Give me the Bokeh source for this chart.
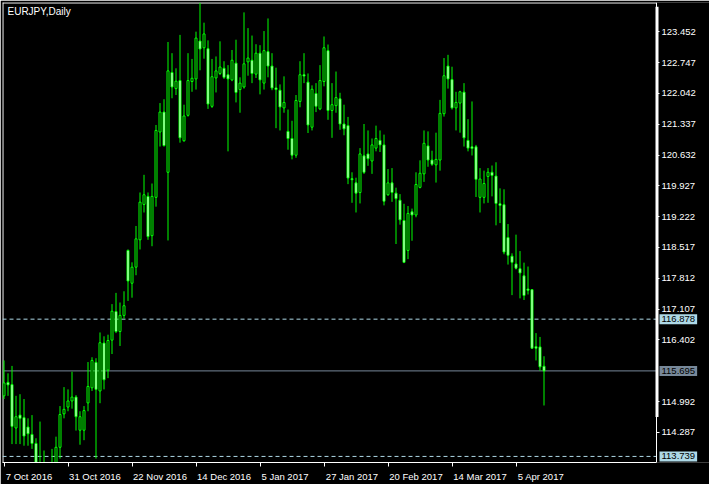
import pandas as pd
from bokeh.plotting import figure
from bokeh.models import (ColumnDataSource, FixedTicker, PrintfTickFormatter, Label,
                          Range1d, LinearAxis)
from bokeh.embed import file_html
from bokeh.resources import INLINE

# ---------------- data ----------------
chart_title = "EURJPY,Daily"
dates = pd.bdate_range("2016-10-07", periods=136)

opens = [115.125, 115.433, 115.382, 114.389, 114.684, 114.625, 114.411, 114.242, 114.036, 113.360,
         113.250, 113.450, 113.300, 113.500, 113.948, 114.713, 114.868, 115.007, 115.096, 114.338,
         114.338, 114.963, 115.309, 115.890, 115.236, 116.331, 115.713, 116.398, 117.052, 116.596,
         116.964, 118.450, 117.700, 118.067, 118.693, 119.502, 119.686, 118.788, 119.664, 121.158,
         121.614, 120.237, 122.519, 122.151, 122.335, 120.958, 121.540, 122.313, 122.372, 123.239,
         123.085, 123.063, 121.746, 122.394, 122.497, 122.615, 122.468, 122.350, 122.733, 122.129,
         122.188, 122.762, 122.799, 122.482, 122.961, 122.276, 122.997, 122.666, 122.166, 122.114,
         121.710, 121.172, 121.010, 120.628, 121.857, 122.468, 122.298, 121.268, 122.040, 121.687,
         122.313, 123.019, 121.651, 121.761, 121.916, 121.341, 121.304, 120.090, 119.995, 119.775,
         120.613, 120.657, 120.495, 120.790, 120.966, 120.863, 119.723, 119.995, 119.760, 119.598,
         119.134, 118.450, 119.333, 119.260, 119.892, 120.201, 120.841, 120.517, 120.407, 120.517,
         121.577, 122.666, 122.357, 121.710, 121.820, 122.070, 120.966, 120.819, 120.819, 119.664,
         119.664, 120.142, 120.237, 120.150, 119.517, 119.495, 118.744, 118.318, 118.141, 118.031,
         117.869, 117.567, 117.553, 116.250, 116.243, 115.801]

highs = [115.934, 115.639, 115.809, 115.125, 115.162, 115.052, 114.610, 114.684, 114.154, 114.536,
         113.874, 113.550, 113.911, 114.191, 114.890, 115.324, 115.272, 115.676, 115.140, 114.772,
         114.890, 115.897, 116.007, 115.985, 116.574, 116.486, 116.523, 117.222, 117.479, 117.259,
         117.516, 118.472, 118.178, 119.009, 119.775, 120.179, 119.775, 119.980, 121.319, 121.820,
         121.908, 123.217, 122.961, 122.615, 123.379, 121.783, 122.961, 122.829, 123.453, 124.115,
         123.659, 123.254, 122.829, 122.886, 123.232, 122.777, 122.688, 123.034, 123.269, 122.409,
         123.894, 123.534, 123.364, 123.166, 123.144, 123.467, 123.755, 122.961, 122.629, 122.247,
         122.431, 121.672, 121.415, 122.004, 122.777, 122.961, 122.497, 122.225, 122.276, 122.688,
         123.343, 123.159, 122.276, 122.541, 122.055, 121.783, 121.503, 120.237, 120.113, 120.790,
         121.341, 121.194, 121.010, 121.304, 121.194, 121.099, 120.311, 120.333, 119.885, 119.738,
         119.517, 119.465, 119.407, 120.237, 120.510, 121.194, 121.172, 120.731, 121.143, 121.893,
         122.850, 122.923, 122.651, 122.078, 122.100, 122.276, 121.452, 121.857, 120.863, 120.333,
         120.275, 120.333, 120.392, 120.466, 119.870, 119.848, 119.053, 118.384, 118.811, 118.435,
         118.171, 118.082, 117.567, 116.559, 116.471, 116.030]

lows = [115.052, 115.125, 114.021, 114.021, 114.021, 113.984, 113.984, 113.911, 113.212, 113.100,
        113.050, 113.150, 113.200, 113.400, 113.690, 114.610, 114.772, 114.831, 114.330, 114.006,
        114.110, 114.772, 115.236, 113.690, 114.956, 115.272, 115.529, 116.081, 116.559, 116.265,
        116.891, 117.295, 117.369, 117.883, 118.472, 119.318, 118.693, 118.546, 119.451, 120.826,
        120.826, 118.678, 121.930, 122.004, 120.914, 120.936, 121.511, 122.078, 122.129, 122.570,
        122.835, 121.687, 121.710, 122.063, 122.460, 122.372, 120.716, 122.320, 121.835, 121.599,
        122.151, 122.446, 122.276, 122.394, 122.019, 122.129, 122.409, 122.114, 121.246, 121.194,
        121.599, 120.753, 120.532, 120.569, 121.724, 122.276, 121.135, 121.194, 121.614, 121.658,
        122.203, 121.437, 121.025, 121.599, 121.209, 121.084, 119.966, 119.539, 119.318, 119.525,
        120.200, 120.385, 120.201, 120.716, 120.701, 119.480, 119.700, 119.561, 118.597, 119.039,
        118.160, 118.251, 118.671, 119.208, 119.870, 120.017, 120.363, 120.385, 120.002, 120.274,
        121.511, 122.151, 121.672, 121.194, 121.143, 120.826, 120.716, 120.621, 119.672, 119.318,
        119.525, 119.539, 119.686, 119.024, 119.076, 118.362, 118.127, 117.428, 118.016, 117.354,
        117.317, 117.442, 116.200, 115.934, 115.699, 114.904]

closes = [115.419, 115.375, 114.426, 114.647, 114.610, 114.205, 114.257, 114.036, 113.359, 113.250,
          113.450, 113.300, 113.500, 113.948, 114.698, 114.816, 115.007, 115.096, 114.647, 114.647,
          114.787, 115.339, 115.934, 115.272, 116.339, 115.492, 116.390, 117.060, 116.596, 116.964,
          117.185, 117.751, 118.067, 118.715, 119.554, 119.723, 118.766, 119.686, 121.194, 121.614,
          120.848, 122.556, 122.188, 122.320, 121.025, 121.525, 122.335, 122.387, 123.306, 123.056,
          123.401, 121.798, 122.423, 122.556, 122.644, 122.409, 122.372, 122.799, 122.063, 122.276,
          122.718, 122.850, 122.497, 122.961, 122.350, 123.019, 122.666, 122.166, 122.129, 121.731,
          121.835, 121.010, 120.628, 121.879, 122.468, 122.438, 121.319, 122.136, 121.746, 122.335,
          123.085, 121.651, 121.783, 121.945, 121.341, 121.231, 120.105, 120.068, 119.760, 120.657,
          120.237, 120.547, 120.863, 121.010, 120.863, 119.576, 119.995, 119.775, 119.635, 119.149,
          118.178, 119.296, 119.260, 119.958, 120.215, 120.900, 120.517, 120.422, 120.532, 121.584,
          122.445, 122.372, 121.710, 121.835, 122.078, 121.025, 120.790, 120.782, 120.076, 120.083,
          119.980, 120.237, 120.164, 119.525, 119.480, 118.413, 118.340, 118.178, 118.045, 117.935,
          117.420, 117.538, 116.214, 116.214, 115.787, 115.695]

price_ticks = [123.452, 122.747, 122.042, 121.337, 120.632, 119.927, 119.222,
               118.517, 117.812, 117.107, 116.402, 114.992, 114.287]
date_tick_idx = [0, 16, 32, 48, 64, 80, 96, 112, 128]
date_tick_labels = ["7 Oct 2016", "31 Oct 2016", "22 Nov 2016", "14 Dec 2016", "5 Jan 2017",
                    "27 Jan 2017", "20 Feb 2017", "14 Mar 2017", "5 Apr 2017"]
dashed_levels = [116.878, 113.739]
bid_level = 115.695
scroll_bar_range = (114.64, 124.02)
visible_price_range = (113.60, 124.12)

# ---------------- style / layout ----------------
FONT = "Liberation Sans"
FS = 9.5
LIME = "#00FF00"
LIGHTBLUE = "#ADD8E6"
SLATE = "#778899"
W, H = 709, 484
ML, MT, MB = 2, 2, 20
SCALE_W = 53                       # width of the price-scale strip
BAR_PX = 4.0
frame_w = W - ML
frame_h = H - MT - MB
x0 = -0.375
x1 = x0 + frame_w / BAR_PX
x_edge = x0 + (frame_w - SCALE_W) / BAR_PX     # right edge of the candle area
y0, y1 = visible_price_range
py = (y1 - y0) / frame_h                        # price per pixel
px = 1.0 / BAR_PX                               # bars per pixel

idx = list(range(len(opens)))
src = ColumnDataSource(dict(
    x=idx, date=[d.strftime("%Y-%m-%d") for d in dates],
    o=opens, h=highs, l=lows, c=closes,
    top=[max(a, b) for a, b in zip(opens, closes)],
    bottom=[min(a, b) for a, b in zip(opens, closes)],
    fill=["white" if c < o else "black" for o, c in zip(opens, closes)],
))

p = figure(width=W, height=H, output_backend="svg", toolbar_location=None,
           x_range=Range1d(x0, x1), y_range=Range1d(y0, y1),
           y_axis_location=None, min_border_left=ML, min_border_top=MT,
           min_border_right=0, min_border_bottom=MB)
p.background_fill_color = "black"
p.border_fill_color = "black"
p.outline_line_color = None
p.xgrid.visible = False
p.ygrid.visible = False

# chart frame: left and top border
p.segment(x0=[x0 + 0.5 * px, x0], y0=[y0, y1 - 0.5 * py],
          x1=[x0 + 0.5 * px, x_edge], y1=[y1, y1 - 0.5 * py],
          line_color="white", line_width=1)

# horizontal level lines (behind candles, ending at the price scale)
p.segment(x0=[x0] * len(dashed_levels), y0=dashed_levels,
          x1=[x_edge] * len(dashed_levels), y1=dashed_levels,
          line_color=LIGHTBLUE, line_dash="4 3", line_width=1)
p.segment(x0=[x0], y0=[bid_level], x1=[x_edge], y1=[bid_level],
          line_color=SLATE, line_width=1)

# candles
p.segment(x0="x", y0="l", x1="x", y1="h", source=src, line_color=LIME, line_width=1)
p.vbar(x="x", top="top", bottom="bottom", width=0.5, source=src,
       fill_color="fill", line_color=LIME, line_width=1)

# thick bar along the price-scale edge
p.quad(left=[x_edge - 1.0 * px], right=[x_edge + 2.0 * px],
       bottom=[scroll_bar_range[0]], top=[scroll_bar_range[1]],
       fill_color="white", line_color=None)

# price axis at the candle-area edge
ya = LinearAxis(fixed_location=x_edge, ticker=FixedTicker(ticks=price_ticks),
                formatter=PrintfTickFormatter(format="%.3f"))
ya.axis_line_color = "white"
ya.major_tick_line_color = "white"
ya.major_tick_in = 0
ya.major_tick_out = 3
ya.minor_tick_line_color = None
ya.major_label_text_color = "white"
ya.major_label_text_font = FONT
ya.major_label_text_font_size = f"{FS}px"
ya.major_label_standoff = 2
p.add_layout(ya, "right")

# bottom date axis: labels start just right of their tick
cw = {"0": .556, "1": .556, "2": .556, "3": .556, "4": .556, "5": .556, "6": .556, "7": .556,
      "8": .556, "9": .556, " ": .278, "O": .778, "c": .5, "t": .278, "N": .722, "o": .556,
      "v": .5, "D": .722, "e": .556, "J": .5, "a": .556, "n": .556, "F": .611, "b": .556,
      "M": .833, "r": .333, "A": .667, "p": .556}
centers = []
for i, lab in zip(date_tick_idx, date_tick_labels):
    wpx = sum(cw.get(ch, .556) for ch in lab) * FS
    off = round((1.5 + wpx / 2) / BAR_PX * 4) / 4
    centers.append(i + off)
xa = p.xaxis[0]
xa.bounds = (x0, x_edge)
xa.ticker = FixedTicker(ticks=centers, minor_ticks=date_tick_idx)
xa.major_label_overrides = {c: lab for c, lab in zip(centers, date_tick_labels)}
xa.major_tick_line_color = None
xa.major_tick_in = 0
xa.major_tick_out = 0
xa.minor_tick_line_color = "white"
xa.minor_tick_in = 0
xa.minor_tick_out = 4
xa.axis_line_color = "white"
xa.major_label_text_color = "white"
xa.major_label_text_font = FONT
xa.major_label_text_font_size = f"{FS}px"
xa.major_label_standoff = 4

# highlighted level labels on the price scale
for lv, col in [(dashed_levels[0], LIGHTBLUE), (bid_level, SLATE), (dashed_levels[1], LIGHTBLUE)]:
    p.add_layout(Label(x=x_edge, y=lv, x_offset=3, text=f"{lv:.3f}", text_baseline="middle",
                       text_align="left", text_color="black", text_font=FONT,
                       text_font_size=f"{FS}px", background_fill_color=col, padding=2))

# title
p.add_layout(Label(x=x0, y=y1, x_offset=5, y_offset=-3, text=chart_title,
                   text_baseline="top", text_align="left", text_color="white",
                   text_font=FONT, text_font_size="10px"))

open("out.html", "w").write(file_html(p, INLINE))
